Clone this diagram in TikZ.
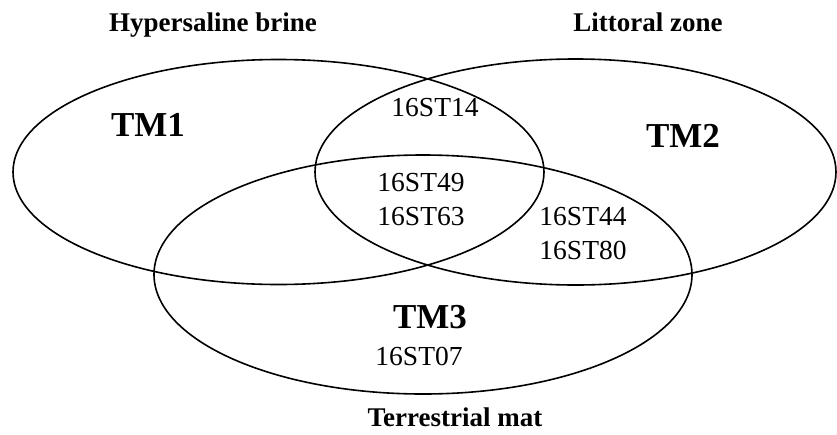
\documentclass[tikz,border=0pt]{standalone}
\usepackage{fontspec}
\setmainfont{Liberation Serif}
\tikzset{
    habitat/.style={font=\fontsize{27}{31}\selectfont\bfseries, inner sep=0pt, anchor=base},
    group/.style={font=\fontsize{35}{40}\selectfont\bfseries, inner sep=0pt, anchor=base},
    strain/.style={font=\fontsize{27.5}{34}\selectfont, inner sep=0pt, align=center},
}

\begin{document}
\begin{tikzpicture}[x=1pt,y=-1pt]
    \useasboundingbox (0,0) rectangle (837,434);
    % the three mats as ellipses: centre x / centre y / x radius / y radius
    \foreach \cx/\cy/\rx/\ry in {278.5/172/265.5/112.5, 575.5/172/260.5/113, 423/274.5/269/119.5}{
        \draw[line width=1.6pt] (\cx,\cy) ellipse [x radius=\rx, y radius=\ry];
    }
    % habitats
    \node[habitat] (brine) at (213,31) {Hypersaline brine};
    \node[habitat] (littoral) at (648,31) {Littoral zone};
    \node[habitat] (terrestrial) at (455,426) {Terrestrial mat};
    % mats
    \node[group] (tm1) at (148,136) {TM1};
    \node[group] (tm2) at (683,147) {TM2};
    \node[group] (tm3) at (430,328) {TM3};
    % strains
    \node[strain, anchor=base] (st14) at (435,116) {16ST14};
    \node[strain] (st49) at (421,200) {16ST49\\16ST63};
    \node[strain] (st44) at (583,234) {16ST44\\16ST80};
    \node[strain, anchor=base] (st07) at (419,365) {16ST07};
\end{tikzpicture}
\end{document}
